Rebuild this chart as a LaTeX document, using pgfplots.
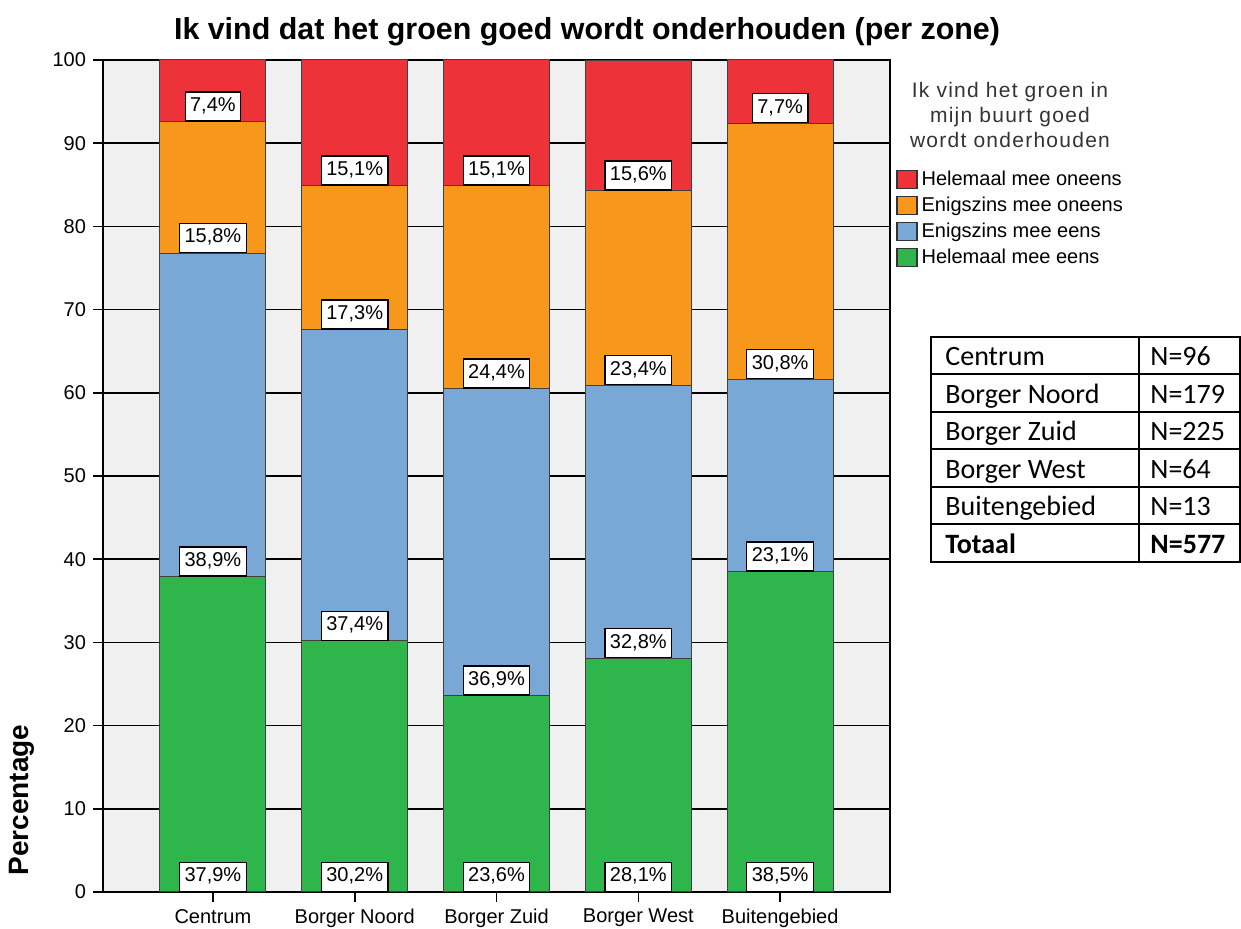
\documentclass[border=0pt]{standalone}
\usepackage{fontspec}
\setmainfont{Liberation Sans}
\newfontfamily\calibri{Carlito}
\newfontfamily\spaced[LetterSpace=6]{Liberation Sans}
\usepackage{pgfplots}
\usepackage{pgfplotstable}
\pgfplotsset{compat=1.18}

\definecolor{cRed}{RGB}{238,50,58}
\definecolor{cOrange}{RGB}{247,152,29}
\definecolor{cBlue}{RGB}{121,167,214}
\definecolor{cGreen}{RGB}{46,182,76}
\definecolor{bgGray}{RGB}{240,240,240}

% percentages per zone (bottom to top)
\pgfplotstableread{
x green blue orange red
0 37.9 38.9 15.8 7.4
1 30.2 37.4 17.3 15.1
2 23.6 36.9 24.4 15.1
3 28.1 32.8 23.4 15.6
4 38.5 23.1 30.8 7.7
}\datatable

% label positions: bottom of each segment
\pgfplotstableread{
x base val
0 0 37.9
0 37.9 38.9
0 76.8 15.8
0 92.6 7.4
1 0 30.2
1 30.2 37.4
1 67.6 17.3
1 84.9 15.1
2 0 23.6
2 23.6 36.9
2 60.5 24.4
2 84.9 15.1
3 0 28.1
3 28.1 32.8
3 60.9 23.4
3 84.3 15.6
4 0 38.5
4 38.5 23.1
4 61.6 30.8
4 92.4 7.7
}\labeltable

\begin{document}
\begin{tikzpicture}
\path[use as bounding box] (0,0) rectangle (620.5pt,464.5pt);

\begin{axis}[
  at={(51.5pt,18.5pt)}, anchor=south west,
  scale only axis, width=393.5pt, height=416pt,
  ybar stacked, bar width=53pt,
  xmin=-0.775, xmax=4.775, ymin=0, ymax=100,
  xtick={0,...,4},
  xticklabels={Centrum,Borger Noord,Borger Zuid,Borger West,Buitengebied},
  ytick={0,10,...,100},
  ymajorgrids, major grid style={black, line width=0.8pt},
  axis background/.style={fill=bgGray},
  axis line style={black, line width=0.8pt},
  tick style={black, line width=0.8pt},
  tick align=outside, major tick length=5pt,
  xtick pos=bottom, ytick pos=left,
  ticklabel style={font=\fontsize{10}{12}\selectfont},
  /pgf/number format/assume math mode=true,
  legend image code/.code={\draw[#1, draw=black!80, line width=0.6pt] (0pt,-4.5pt) rectangle (10pt,4.5pt);},
  reverse legend,
  legend cell align=left,
  legend style={at={(1.0,0.877)}, anchor=north west, draw=none, fill=none,
    font=\fontsize{10}{12}\selectfont, row sep=0pt,
    nodes={inner sep=2pt, text height=7.5pt, text depth=1.5pt}},
]
\addplot[fill=cGreen, draw=black!75, line width=0.5pt] table[x=x, y=green] {\datatable};
\addlegendentry{Helemaal mee eens}
\addplot[fill=cBlue, draw=black!75, line width=0.5pt] table[x=x, y=blue] {\datatable};
\addlegendentry{Enigszins mee eens}
\addplot[fill=cOrange, draw=black!75, line width=0.5pt] table[x=x, y=orange] {\datatable};
\addlegendentry{Enigszins mee oneens}
\addplot[fill=cRed, draw=black!75, line width=0.5pt] table[x=x, y=red] {\datatable};
\addlegendentry{Helemaal mee oneens}
\end{axis}

% value labels, same frame as the bars
\begin{axis}[
  at={(51.5pt,18.5pt)}, anchor=south west,
  scale only axis, width=393.5pt, height=416pt,
  xmin=-0.775, xmax=4.775, ymin=0, ymax=100,
  hide axis, clip=false,
]
\addplot[draw=none, mark=none, point meta=explicit,
  nodes near coords={\pgfmathprintnumber[fixed,fixed zerofill,precision=1,use comma,assume math mode=true]{\pgfplotspointmeta}\%},
  every node near coord/.append style={anchor=south, fill=white, draw=black, line width=0.6pt,
    inner xsep=2.5pt, inner ysep=2.25pt, text height=7.5pt, text depth=2.5pt,
    font=\fontsize{10}{12}\selectfont, text=black}]
  table[x=x, y=base, meta=val] {\labeltable};
\end{axis}

% title and axis label
\node[font=\fontsize{15.2}{18}\selectfont\bfseries] at (293.5pt,448.5pt)
  {Ik vind dat het groen goed wordt onderhouden (per zone)};
\node[font=\fontsize{14}{16}\selectfont\bfseries, rotate=90] at (11pt,64.5pt) {Percentage};

% legend title
\node[font=\spaced\fontsize{10.5}{12.5}\selectfont, align=center, text=black!80, anchor=north]
  at (505pt,427pt) {Ik vind het groen in\\mijn buurt goed\\wordt onderhouden};

% N per zone
\draw[line width=1pt] (465.5pt,183.5pt) rectangle (620pt,296pt);
\foreach \k in {1,...,5} \draw[line width=1pt] (465.5pt,{296pt-\k*18.75pt}) -- (620pt,{296pt-\k*18.75pt});
\draw[line width=1pt] (569.5pt,183.5pt) -- (569.5pt,296pt);
\foreach \k/\a/\b in {0/Centrum/N=96, 1/Borger Noord/N=179, 2/Borger Zuid/N=225, 3/Borger West/N=64, 4/Buitengebied/N=13} {
  \node[anchor=base west, inner sep=0pt, font=\calibri\fontsize{14}{16}\selectfont] at (472.5pt,{296pt-(\k+0.5)*18.75pt-5pt}) {\a};
  \node[anchor=base west, inner sep=0pt, font=\calibri\fontsize{14}{16}\selectfont] at (575pt,{296pt-(\k+0.5)*18.75pt-5pt}) {\b};
}
\node[anchor=base west, inner sep=0pt, font=\calibri\fontsize{14}{16}\selectfont\bfseries] at (472.5pt,{296pt-5.5*18.75pt-5pt}) {Totaal};
\node[anchor=base west, inner sep=0pt, font=\calibri\fontsize{14}{16}\selectfont\bfseries] at (575pt,{296pt-5.5*18.75pt-5pt}) {N=577};
\end{tikzpicture}
\end{document}
